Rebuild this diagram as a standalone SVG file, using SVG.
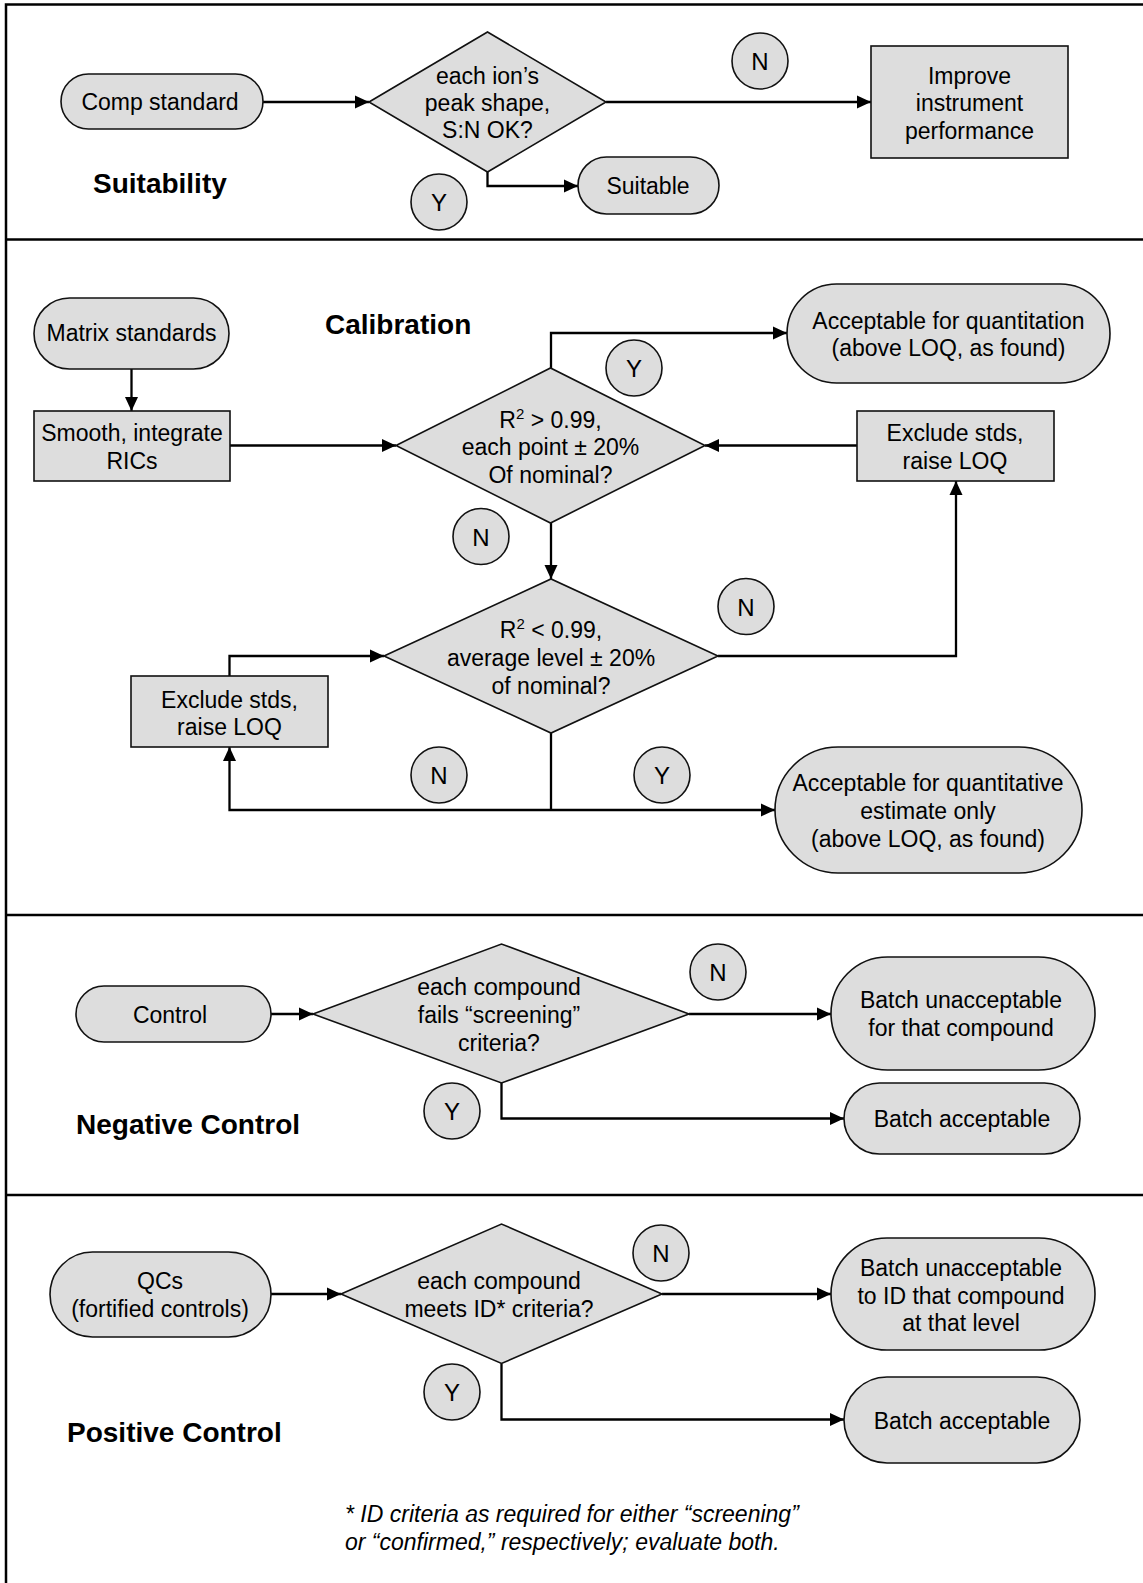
<svg xmlns="http://www.w3.org/2000/svg" width="1143" height="1583" viewBox="0 0 1143 1583">
<style>
  .shape { fill: #dddddd; stroke: #111111; stroke-width: 1.6; }
  .conn { fill: none; stroke: #000000; stroke-width: 2.3; }
  .frame { fill: none; stroke: #000000; stroke-width: 2.5; }
  text { font-family: "Liberation Sans", Arial, sans-serif; fill: #000000; }
  .t { font-size: 23px; text-anchor: middle; }
  .lbl { font-size: 24px; text-anchor: middle; }
  .title { font-size: 28px; font-weight: bold; }
  .note { font-size: 23px; font-style: italic; }
</style>
<defs>
  <marker id="arrow" markerUnits="userSpaceOnUse" markerWidth="14" markerHeight="14" refX="14" refY="7" orient="auto">
    <path d="M0,0.5 L14,7 L0,13.5 z" fill="#000000"/>
  </marker>
</defs>
<rect width="1143" height="1583" fill="#ffffff"/>

<!-- frame and section dividers -->
<g id="frame">
  <path class="frame" d="M6,1583 V4.5 H1143"/>
  <path class="frame" d="M5,239.5 H1143"/>
  <path class="frame" d="M5,915 H1143"/>
  <path class="frame" d="M5,1195 H1143"/>
</g>

<!-- connectors -->
<g id="connectors">
  <path class="conn" d="M263,102 H369" marker-end="url(#arrow)"/>
  <path class="conn" d="M606,102 H871" marker-end="url(#arrow)"/>
  <path class="conn" d="M487.5,172 V186 H578" marker-end="url(#arrow)"/>
  <path class="conn" d="M131.5,369 V411" marker-end="url(#arrow)"/>
  <path class="conn" d="M230,445.5 H396" marker-end="url(#arrow)"/>
  <path class="conn" d="M551,368 V333 H787" marker-end="url(#arrow)"/>
  <path class="conn" d="M857,445.5 H705" marker-end="url(#arrow)"/>
  <path class="conn" d="M551,523 V579" marker-end="url(#arrow)"/>
  <path class="conn" d="M718,656 H956 V481" marker-end="url(#arrow)"/>
  <path class="conn" d="M229.5,676 V656 H384" marker-end="url(#arrow)"/>
  <path class="conn" d="M551,733 V810"/>
  <path class="conn" d="M551,810 H229.5 V747" marker-end="url(#arrow)"/>
  <path class="conn" d="M551,810 H775" marker-end="url(#arrow)"/>
  <path class="conn" d="M271,1014 H313" marker-end="url(#arrow)"/>
  <path class="conn" d="M689,1014 H831" marker-end="url(#arrow)"/>
  <path class="conn" d="M501.5,1083 V1118.5 H844" marker-end="url(#arrow)"/>
  <path class="conn" d="M271,1294 H341" marker-end="url(#arrow)"/>
  <path class="conn" d="M662,1294 H831" marker-end="url(#arrow)"/>
  <path class="conn" d="M501.5,1363.5 V1419.5 H844" marker-end="url(#arrow)"/>
</g>

<!-- Section 1: Suitability -->
<g id="title-suitability"><text class="title" x="93" y="193">Suitability</text></g>
<g id="comp-standard">
  <rect class="shape" x="61" y="74" width="202" height="55" rx="27.5" ry="27.5"/>
  <text class="t" x="160" y="110">Comp standard</text>
</g>
<g id="suitability-decision">
  <polygon class="shape" points="369,102 487.5,32 606,102 487.5,172"/>
  <text class="t" x="487.5" y="84">each ion’s</text>
  <text class="t" x="487.5" y="111">peak shape,</text>
  <text class="t" x="487.5" y="138">S:N OK?</text>
</g>
<g id="improve-instrument">
  <rect class="shape" x="871" y="46" width="197" height="112"/>
  <text class="t" x="969.5" y="84">Improve</text>
  <text class="t" x="969.5" y="111">instrument</text>
  <text class="t" x="969.5" y="139">performance</text>
</g>
<g id="suitable">
  <rect class="shape" x="578" y="157" width="141" height="57" rx="28.5" ry="28.5"/>
  <text class="t" x="648" y="194">Suitable</text>
</g>
<g id="label-n1"><circle class="shape" cx="760" cy="61" r="28"/><text class="lbl" x="760" y="70">N</text></g>
<g id="label-y1"><circle class="shape" cx="439" cy="202" r="28"/><text class="lbl" x="439" y="211">Y</text></g>

<!-- Section 2: Calibration -->
<g id="title-calibration"><text class="title" x="325" y="334">Calibration</text></g>
<g id="matrix-standards">
  <rect class="shape" x="34" y="298" width="195" height="71" rx="35.5" ry="35.5"/>
  <text class="t" x="131.5" y="341">Matrix standards</text>
</g>
<g id="smooth-integrate">
  <rect class="shape" x="34" y="411" width="196" height="70"/>
  <text class="t" x="132" y="441">Smooth, integrate</text>
  <text class="t" x="132" y="469">RICs</text>
</g>
<g id="calibration-decision-1">
  <polygon class="shape" points="396,445.5 550.5,368 705,445.5 550.5,523"/>
  <text class="t" x="550.5" y="428"><tspan>R</tspan><tspan font-size="15" dy="-9">2</tspan><tspan dy="9"> &gt; 0.99,</tspan></text>
  <text class="t" x="550.5" y="455">each point ± 20%</text>
  <text class="t" x="550.5" y="483">Of nominal?</text>
</g>
<g id="acceptable-quantitation">
  <rect class="shape" x="787" y="284" width="323" height="99" rx="49.5" ry="49.5"/>
  <text class="t" x="948.5" y="329">Acceptable for quantitation</text>
  <text class="t" x="948.5" y="356">(above LOQ, as found)</text>
</g>
<g id="exclude-stds-right">
  <rect class="shape" x="857" y="411" width="197" height="70"/>
  <text class="t" x="955" y="441">Exclude stds,</text>
  <text class="t" x="955" y="469">raise LOQ</text>
</g>
<g id="label-y2"><circle class="shape" cx="634" cy="368" r="28"/><text class="lbl" x="634" y="377">Y</text></g>
<g id="label-n2"><circle class="shape" cx="481" cy="536.5" r="28"/><text class="lbl" x="481" y="545.5">N</text></g>
<g id="calibration-decision-2">
  <polygon class="shape" points="384,656 551,579 718,656 551,733"/>
  <text class="t" x="551" y="638"><tspan>R</tspan><tspan font-size="15" dy="-9">2</tspan><tspan dy="9"> &lt; 0.99,</tspan></text>
  <text class="t" x="551" y="666">average level ± 20%</text>
  <text class="t" x="551" y="694">of nominal?</text>
</g>
<g id="label-n3"><circle class="shape" cx="746" cy="606.5" r="28"/><text class="lbl" x="746" y="615.5">N</text></g>
<g id="exclude-stds-left">
  <rect class="shape" x="131" y="676" width="197" height="71"/>
  <text class="t" x="229.5" y="708">Exclude stds,</text>
  <text class="t" x="229.5" y="735">raise LOQ</text>
</g>
<g id="label-n4"><circle class="shape" cx="439" cy="775" r="28"/><text class="lbl" x="439" y="784">N</text></g>
<g id="label-y3"><circle class="shape" cx="662" cy="775" r="28"/><text class="lbl" x="662" y="784">Y</text></g>
<g id="acceptable-estimate">
  <rect class="shape" x="775" y="747" width="307" height="126" rx="63" ry="63"/>
  <text class="t" x="928" y="791">Acceptable for quantitative</text>
  <text class="t" x="928" y="819">estimate only</text>
  <text class="t" x="928" y="847">(above LOQ, as found)</text>
</g>

<!-- Section 3: Negative Control -->
<g id="title-negative"><text class="title" x="76" y="1134">Negative Control</text></g>
<g id="control">
  <rect class="shape" x="76" y="986" width="195" height="56" rx="28" ry="28"/>
  <text class="t" x="170" y="1023">Control</text>
</g>
<g id="negative-decision">
  <polygon class="shape" points="313,1014 501.5,944 689,1014 501.5,1083"/>
  <text class="t" x="499" y="995">each compound</text>
  <text class="t" x="499" y="1023">fails “screening”</text>
  <text class="t" x="499" y="1051">criteria?</text>
</g>
<g id="label-n5"><circle class="shape" cx="718" cy="972" r="28"/><text class="lbl" x="718" y="981">N</text></g>
<g id="label-y4"><circle class="shape" cx="452" cy="1111" r="28"/><text class="lbl" x="452" y="1120">Y</text></g>
<g id="batch-unacceptable-1">
  <rect class="shape" x="831" y="957" width="264" height="113" rx="56.5" ry="56.5"/>
  <text class="t" x="961" y="1008">Batch unacceptable</text>
  <text class="t" x="961" y="1036">for that compound</text>
</g>
<g id="batch-acceptable-1">
  <rect class="shape" x="844" y="1083" width="236" height="71" rx="35.5" ry="35.5"/>
  <text class="t" x="962" y="1127">Batch acceptable</text>
</g>

<!-- Section 4: Positive Control -->
<g id="title-positive"><text class="title" x="67" y="1442">Positive Control</text></g>
<g id="qcs">
  <rect class="shape" x="50" y="1252" width="221" height="85" rx="42.5" ry="42.5"/>
  <text class="t" x="160" y="1289">QCs</text>
  <text class="t" x="160" y="1317">(fortified controls)</text>
</g>
<g id="positive-decision">
  <polygon class="shape" points="341,1294 501.5,1224 662,1294 501.5,1363.5"/>
  <text class="t" x="499" y="1289">each compound</text>
  <text class="t" x="499" y="1317">meets ID* criteria?</text>
</g>
<g id="label-n6"><circle class="shape" cx="661" cy="1253" r="28"/><text class="lbl" x="661" y="1262">N</text></g>
<g id="label-y5"><circle class="shape" cx="452" cy="1392" r="28"/><text class="lbl" x="452" y="1401">Y</text></g>
<g id="batch-unacceptable-2">
  <rect class="shape" x="831" y="1238" width="264" height="112" rx="56" ry="56"/>
  <text class="t" x="961" y="1276">Batch unacceptable</text>
  <text class="t" x="961" y="1304">to ID that compound</text>
  <text class="t" x="961" y="1331">at that level</text>
</g>
<g id="batch-acceptable-2">
  <rect class="shape" x="844" y="1377" width="236" height="86" rx="43" ry="43"/>
  <text class="t" x="962" y="1429">Batch acceptable</text>
</g>
<g id="footnote">
  <text class="note" x="345" y="1522">* ID criteria as required for either “screening”</text>
  <text class="note" x="345" y="1550">or “confirmed,” respectively; evaluate both.</text>
</g>
</svg>
